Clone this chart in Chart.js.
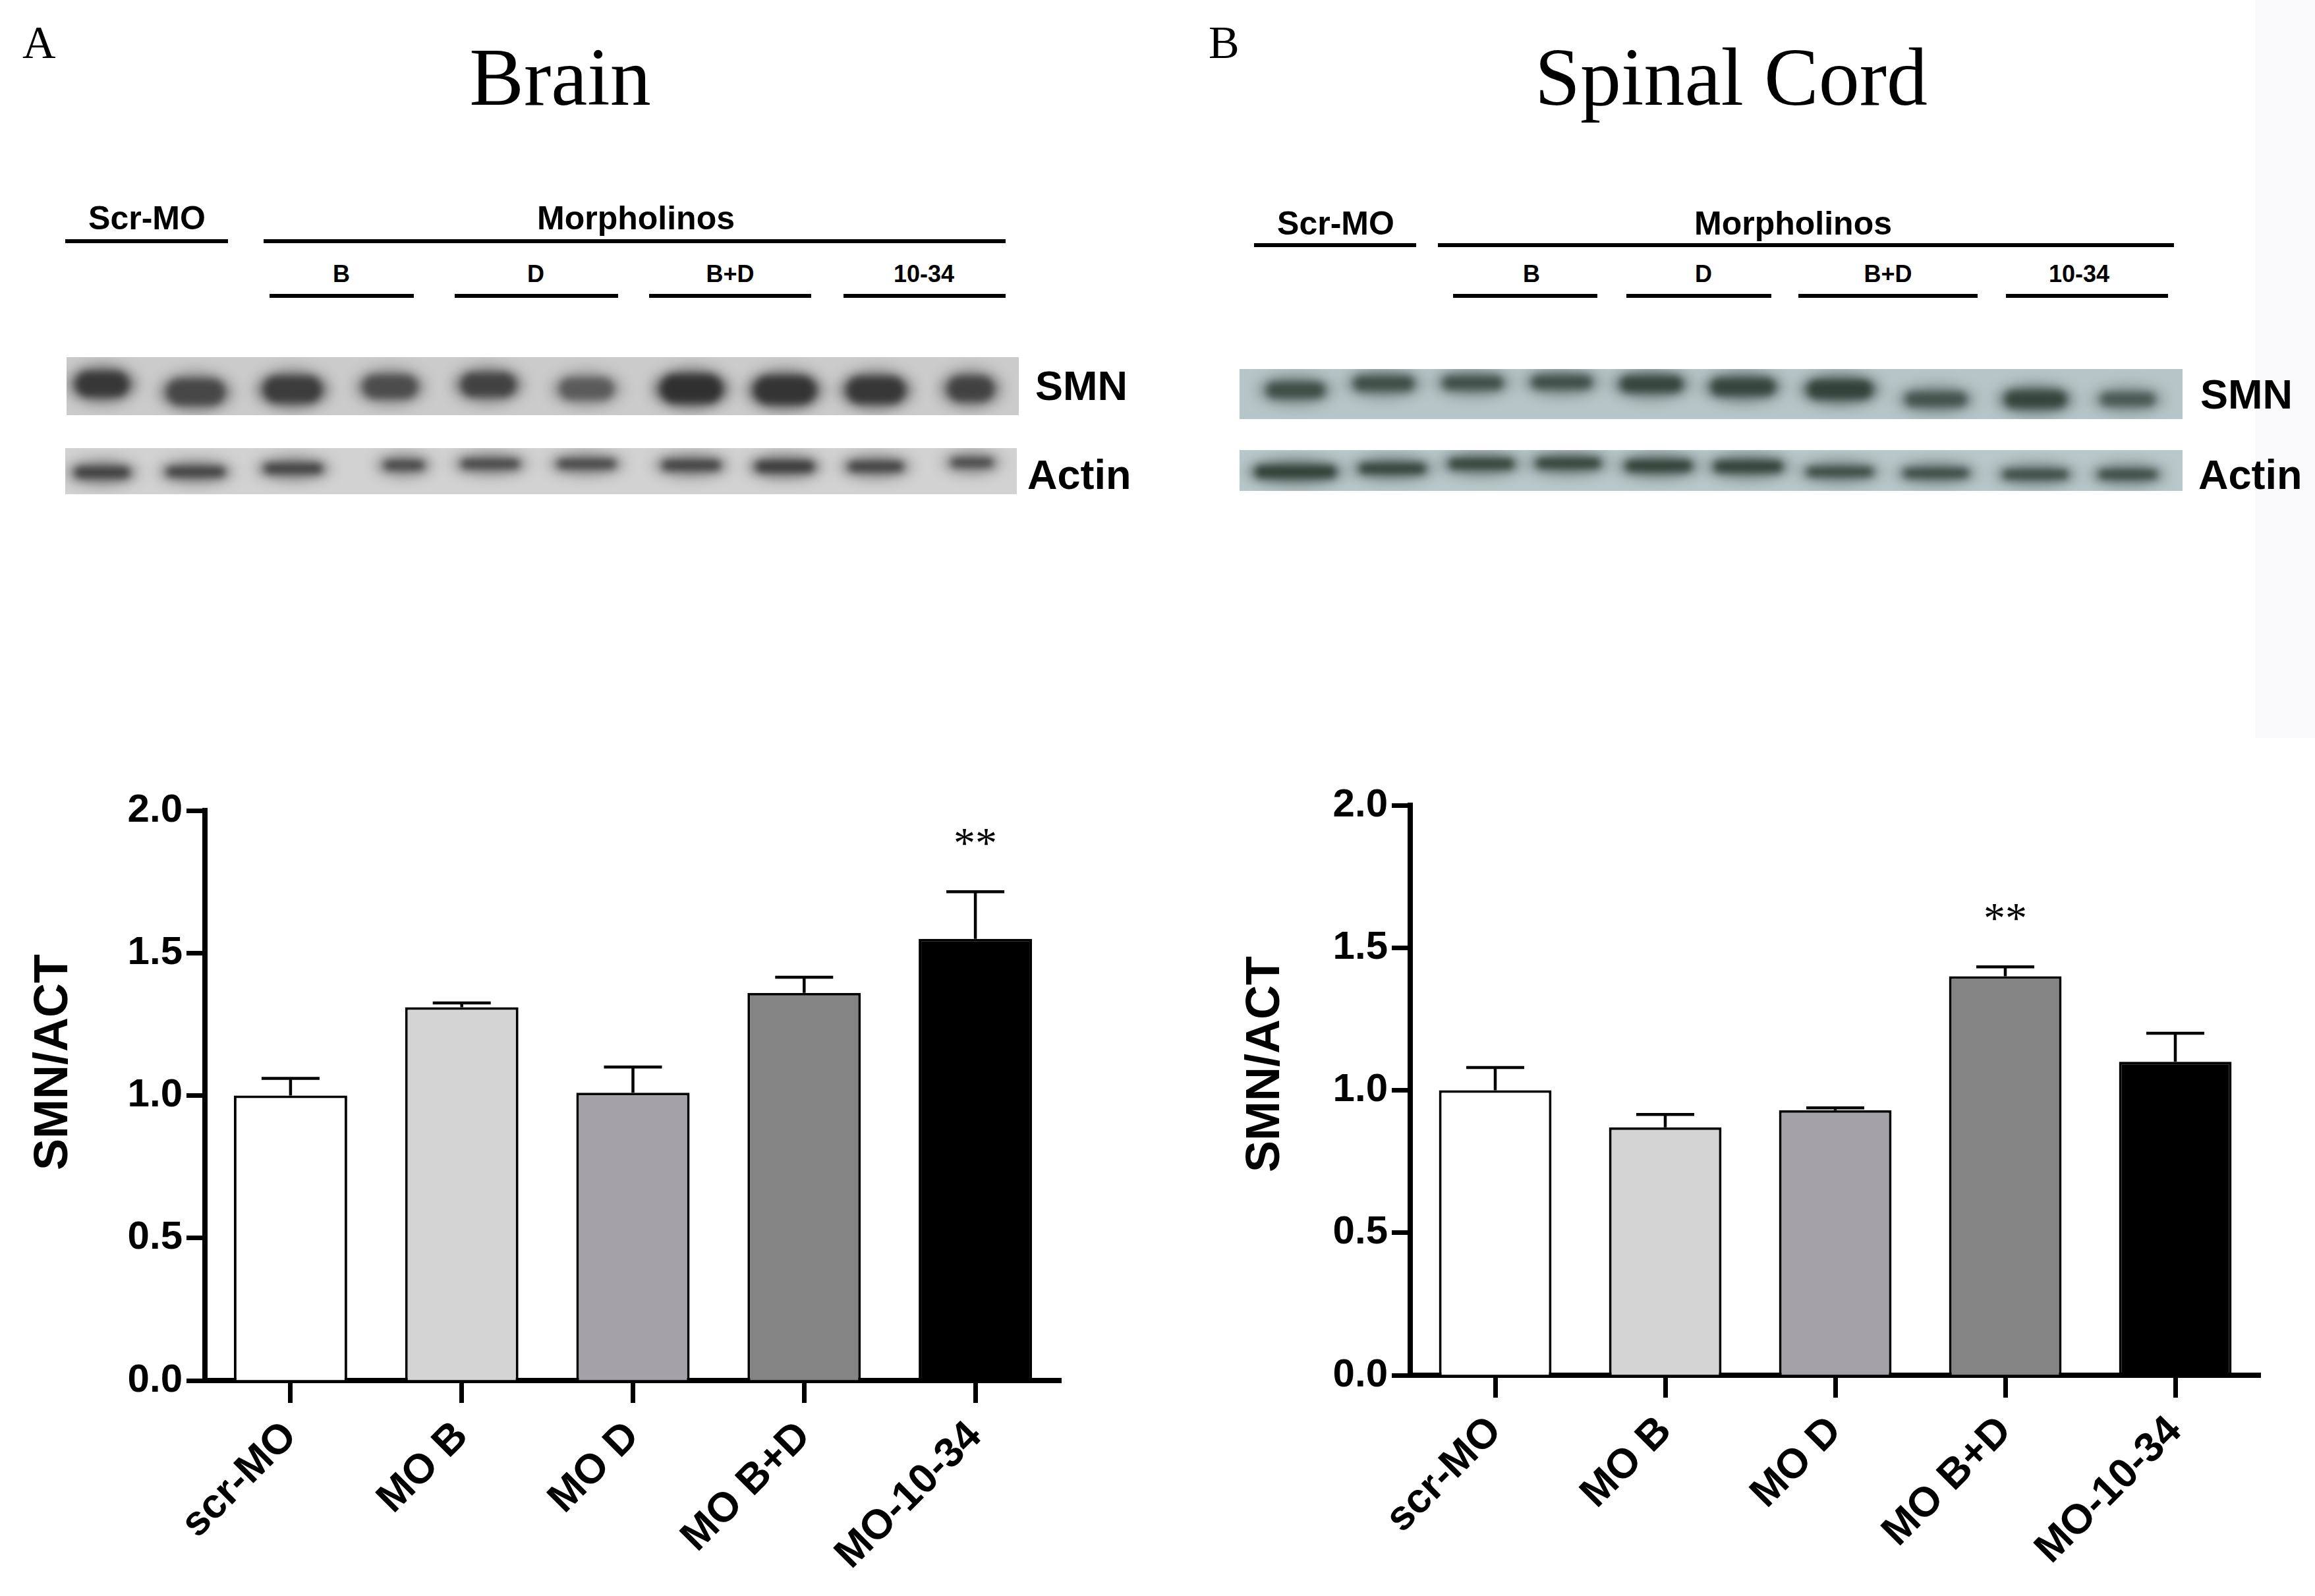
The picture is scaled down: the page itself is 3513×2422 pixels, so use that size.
<!DOCTYPE html>
<html>
<head>
<meta charset="utf-8">
<script src="https://cdn.jsdelivr.net/npm/chart.js@4.4.1/dist/chart.umd.min.js"></script>
<style>
    body { margin: 0; background: #fff; }
    #page { position: relative; width: 3513px; height: 2422px; overflow: hidden; background: #fff; }
    .txt { position: absolute; white-space: nowrap; line-height: 1; color: #000; }
    .sans { font-family: 'Liberation Sans', Arial, sans-serif; font-weight: bold; }
    .serif { font-family: 'Liberation Serif', 'Times New Roman', serif; }
    .box { position: absolute; }
</style>
</head>
<body>
<div id="page">
    <div class="box" style="left:3423px;top:0;width:90px;height:1120px;background:#f9f9fc"></div>
    <canvas id="blots" width="3513" height="320" style="position:absolute;left:0;top:500px"></canvas>
    <div class="box" style="left:0;top:1150px;width:1756px;height:1272px"><canvas id="brainChart"></canvas></div>
    <div class="box" style="left:1756px;top:1150px;width:1757px;height:1272px"><canvas id="spinalChart"></canvas></div>
</div>
<script>
// --- chart data ---
const categories = ['scr-MO', 'MO B', 'MO D', 'MO B+D', 'MO-10-34'];
const brainMeans = [1.00, 1.31, 1.01, 1.36, 1.55];
const brainSem = [0.06, 0.015, 0.09, 0.055, 0.165];
const brainSig = ['', '', '', '', '**'];
const spinalMeans = [1.00, 0.87, 0.93, 1.40, 1.10];
const spinalSem = [0.08, 0.045, 0.008, 0.033, 0.10];
const spinalSig = ['', '', '', '**', ''];
const yTicks = [0.0, 0.5, 1.0, 1.5, 2.0];

const barColors = ['#ffffff', '#d4d4d4', '#a4a2a8', '#848484', '#000000'];

// --- western blot picture (lane x, y, width, height, darkness) ---
const brainSmnBands = [[155,583,92,46,0.85],[297,595,100,48,0.7],[444,591,100,48,0.8],[592,587,95,44,0.65],[741,584,95,44,0.75],
    [890,590,95,42,0.55],[1049,590,105,50,0.95],[1191,592,105,50,0.9],[1329,592,100,48,0.85],[1473,590,82,46,0.75]];
const brainActinBands = [[155,717,95,24,0.85],[297,716,100,22,0.85],[445,711,100,22,0.85],[613,706,72,20,0.85],[744,704,100,20,0.85],
    [890,704,100,20,0.85],[1049,706,100,22,0.85],[1191,708,100,24,0.9],[1329,708,95,22,0.85],[1475,702,75,20,0.8]];
const spinalSmnBands = [[1966,592,100,32,0.75],[2100,582,103,30,0.75],[2235,581,103,28,0.75],[2370,580,103,28,0.75],[2506,583,106,32,0.85],
    [2645,587,109,34,0.85],[2792,591,110,36,0.9],[2938,606,105,30,0.7],[3089,606,105,34,0.85],[3229,606,95,28,0.65]];
const spinalActinBands = [[1966,716,135,26,0.9],[2113,711,112,22,0.9],[2248,704,110,22,0.9],[2380,703,109,22,0.9],[2517,707,112,24,0.9],
    [2653,708,115,24,0.9],[2792,716,112,20,0.85],[2938,718,110,20,0.85],[3089,720,110,20,0.85],[3229,720,100,20,0.85]];

function addText(text, x, baseline, size, cls, align) {
    const el = document.createElement('div');
    el.className = 'txt ' + cls;
    el.textContent = text;
    el.style.fontSize = size + 'px';
    const k = cls === 'serif' ? 0.8375 : 0.8465;
    el.style.top = (baseline - k * size) + 'px';
    el.style.left = x + 'px';
    if (align === 'center') el.style.transform = 'translateX(-50%)';
    document.getElementById('page').appendChild(el);
}

function addLine(x1, x2, y) {
    const el = document.createElement('div');
    el.className = 'box';
    el.style.left = x1 + 'px';
    el.style.width = (x2 - x1) + 'px';
    el.style.top = (y - 3) + 'px';
    el.style.height = '6px';
    el.style.background = '#000';
    document.getElementById('page').appendChild(el);
}

function addAxisTitle(text, cx, cy) {
    const el = document.createElement('div');
    el.className = 'txt sans';
    el.textContent = text;
    el.style.fontSize = '72px';
    el.style.left = cx + 'px';
    el.style.top = cy + 'px';
    el.style.transform = 'translate(-50%, -50%) rotate(-90deg)';
    document.getElementById('page').appendChild(el);
}

function drawBlot(ctx, x1, x2, y1, y2, bg, bands, rgb) {
    const oy = 500;
    ctx.fillStyle = bg;
    ctx.fillRect(x1, y1 - oy, x2 - x1, y2 - y1);
    ctx.save();
    ctx.beginPath();
    ctx.rect(x1, y1 - oy, x2 - x1, y2 - y1);
    ctx.clip();
    bands.forEach(b => {
        const [cx, cy, w, h, a] = b;
        ctx.filter = 'blur(10px)';
        ctx.fillStyle = 'rgba(' + rgb + ',' + (a * 0.65) + ')';
        ctx.beginPath();
        ctx.ellipse(cx, cy - oy, w / 2 + 6, h / 2 + 6, 0, 0, Math.PI * 2);
        ctx.fill();
        ctx.filter = 'blur(6px)';
        ctx.fillStyle = 'rgba(' + rgb + ',' + a + ')';
        ctx.beginPath();
        ctx.roundRect(cx - w / 2 + 6, cy - h / 2 + 4 - oy, w - 12, h - 8, h / 2);
        ctx.fill();
    });
    ctx.restore();
}

const blotCtx = document.getElementById('blots').getContext('2d');
drawBlot(blotCtx, 101, 1546, 542, 630, 'rgb(203,203,203)', brainSmnBands, '45,45,45');
drawBlot(blotCtx, 99, 1543, 680, 750, 'rgb(210,210,210)', brainActinBands, '50,50,50');
drawBlot(blotCtx, 1881, 3312, 560, 636, 'rgb(182,198,200)', spinalSmnBands, '45,60,52');
drawBlot(blotCtx, 1881, 3312, 683, 745, 'rgb(184,200,202)', spinalActinBands, '42,56,48');

// panel letters and titles
addText('A', 34, 89, 70, 'serif');
addText('B', 1834, 89, 70, 'serif');
addText('Brain', 850, 160, 124, 'serif', 'center');
addText('Spinal Cord', 2627, 160, 124, 'serif', 'center');

// blot group labels
addText('Scr-MO', 223, 348, 50, 'sans', 'center');
addText('Morpholinos', 965, 348, 50, 'sans', 'center');
addLine(99, 346, 366);
addLine(400, 1526, 366);
[['B', 518, 409, 628], ['D', 813, 690, 938], ['B+D', 1108, 985, 1231], ['10-34', 1402, 1280, 1526]].forEach(g => {
    addText(g[0], g[1], 428, 36, 'sans', 'center');
    addLine(g[2], g[3], 449);
});
addText('SMN', 1571, 607, 63, 'sans');
addText('Actin', 1559, 742, 63, 'sans');

addText('Scr-MO', 2027, 356, 50, 'sans', 'center');
addText('Morpholinos', 2721, 356, 50, 'sans', 'center');
addLine(1903, 2149, 372);
addLine(2182, 3299, 372);
[['B', 2324, 2205, 2424], ['D', 2585, 2468, 2688], ['B+D', 2865, 2729, 3001], ['10-34', 3155, 3044, 3290]].forEach(g => {
    addText(g[0], g[1], 428, 36, 'sans', 'center');
    addLine(g[2], g[3], 449);
});
addText('SMN', 3339, 620, 63, 'sans');
addText('Actin', 3336, 742, 63, 'sans');

addAxisTitle('SMN/ACT', 77, 1612);
addAxisTitle('SMN/ACT', 1916, 1615);

// error bars (upper half only) and significance marks
const errorBarPlugin = {
    id: 'errorBars',
    afterDatasetsDraw(chart, args, opts) {
        const ctx = chart.ctx;
        const yScale = chart.scales.y;
        const meta = chart.getDatasetMeta(0);
        ctx.save();
        ctx.strokeStyle = '#000';
        ctx.lineWidth = 4.5;
        meta.data.forEach((bar, i) => {
            const top = yScale.getPixelForValue(opts.means[i] + opts.sem[i]);
            const cap = 88;
            ctx.beginPath();
            ctx.moveTo(bar.x, bar.y);
            ctx.lineTo(bar.x, top);
            ctx.moveTo(bar.x - cap / 2, top);
            ctx.lineTo(bar.x + cap / 2, top);
            ctx.stroke();
            if (opts.sig[i]) {
                ctx.fillStyle = '#000';
                ctx.font = "66px 'Liberation Serif', 'Times New Roman', serif";
                ctx.textAlign = 'center';
                ctx.textBaseline = 'alphabetic';
                ctx.fillText(opts.sig[i], bar.x, top - 52);
            }
        });
        ctx.restore();
    }
};

Chart.defaults.font.family = "'Liberation Sans', Arial, sans-serif";
Chart.defaults.color = '#000';

function makeChart(id, means, sem, sig, area) {
    return new Chart(document.getElementById(id), {
        type: 'bar',
        data: {
            labels: categories,
            datasets: [{
                data: means,
                backgroundColor: barColors,
                borderColor: '#000',
                borderWidth: 4,
                barPercentage: 0.662,
                categoryPercentage: 1.0
            }]
        },
        options: {
            responsive: true,
            maintainAspectRatio: false,
            animation: false,
            layout: { padding: { left: 0, top: area.top, right: area.right, bottom: 0 } },
            plugins: {
                legend: { display: false },
                tooltip: { enabled: false },
                errorBars: { means: means, sem: sem, sig: sig }
            },
            scales: {
                x: {
                    type: 'category',
                    offset: true,
                    afterFit: s => { s.height = area.xHeight; },
                    border: { display: true, color: '#000', width: 8 },
                    grid: { display: true, offset: false, drawOnChartArea: false, drawTicks: true,
                        tickLength: 34, tickWidth: 7, tickColor: '#000' },
                    ticks: { autoSkip: false, minRotation: 45, maxRotation: 45, padding: 14,
                        font: { size: 63, weight: 'bold' }, color: '#000' }
                },
                y: {
                    min: yTicks[0],
                    max: yTicks[yTicks.length - 1],
                    afterFit: s => { s.width = area.yWidth; },
                    border: { display: true, color: '#000', width: 8 },
                    grid: { display: true, drawOnChartArea: false, drawTicks: true,
                        tickLength: 28, tickWidth: 7, tickColor: '#000' },
                    ticks: { stepSize: yTicks[1] - yTicks[0], padding: 6,
                        font: { size: 60, weight: 'bold' }, color: '#000',
                        callback: v => Number(v).toFixed(1) }
                }
            }
        },
        plugins: [errorBarPlugin]
    });
}

makeChart('brainChart', brainMeans, brainSem, brainSig, { top: 80, right: 146, yWidth: 311, xHeight: 327 });
makeChart('spinalChart', spinalMeans, spinalSem, spinalSig, { top: 72, right: 83, yWidth: 384, xHeight: 335 });
</script>
</body>
</html>
